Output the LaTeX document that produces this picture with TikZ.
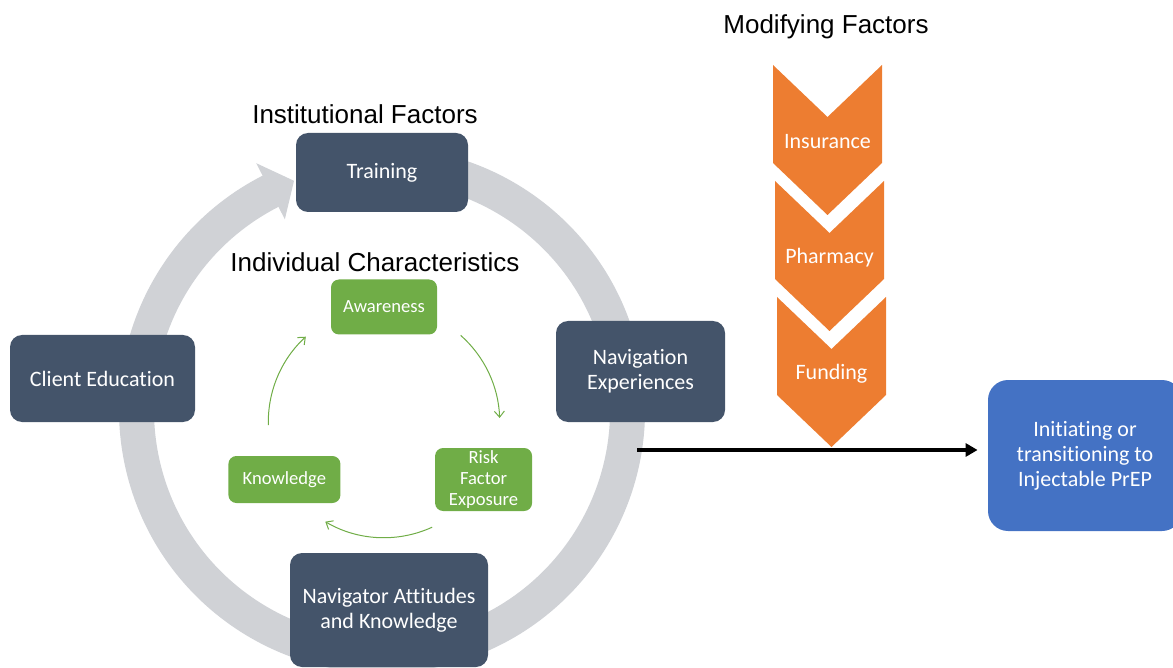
\documentclass[tikz,border=0pt]{standalone}
\usepackage{fontspec}
\setmainfont{Carlito}[Ligatures=NoCommon]
\newfontfamily\headfont{Liberation Sans}
\usetikzlibrary{arrows.meta}

\definecolor{slate}{HTML}{44546A}
\definecolor{ringgrey}{HTML}{D0D2D6}
\definecolor{leaf}{HTML}{70AD47}
\definecolor{amber}{HTML}{ED7D31}
\definecolor{prepblue}{HTML}{4472C4}

\tikzset{
  factor/.style={fill=slate, text=white, rounded corners=6pt, align=center, inner sep=0pt, font=\fontsize{11}{12.5}\selectfont},
  trait/.style={fill=leaf, text=white, rounded corners=4pt, align=center, inner sep=0pt, font=\fontsize{9.3}{10.5}\selectfont},
  heading/.style={font=\headfont\fontsize{13}{15}\selectfont},
  cyc/.style={leaf, line width=0.5pt, -{Straight Barb[length=3pt,width=5pt]}},
}

\begin{document}
\begin{tikzpicture}[x=0.5pt, y=-0.5pt]
  \useasboundingbox (0,0) rectangle (1173,668);

  % grey cycle
  \coordinate (c) at (382,410);
  \draw[ringgrey, line width=17.5pt] ([shift={(-100:245.5)}]c) arc[start angle=-100, end angle=244, radius=245.5];
  \fill[ringgrey] ([shift={(-117:214)}]c) -- ([shift={(-111:245.5)}]c) -- ([shift={(-117:277)}]c) -- cycle;

  \node[heading] (instfac) at (365,114) {Institutional Factors};
  \node[factor, minimum width=86pt, minimum height=39.5pt] (train) at (382,172.5) {Training};
  \node[factor, minimum width=92.5pt, minimum height=43.5pt] (client) at (102.5,378.5) {Client Education};
  \node[factor, minimum width=84.5pt, minimum height=50.5pt] (navexp) at (640.5,371.5) {Navigation\\Experiences};
  \node[factor, minimum width=99pt, minimum height=57pt] (navatt) at (389,610) {Navigator Attitudes\\and Knowledge};

  % inner cycle
  \coordinate (ic) at (384,422);
  \node[heading] (indiv) at (375,262) {Individual Characteristics};
  \node[trait, minimum width=53pt, minimum height=27.5pt] (aware) at ([shift={(-90:115)}]ic) {Awareness};
  \node[trait, minimum width=48.5pt, minimum height=31.5pt] (risk) at ([shift={(30:115)}]ic) {Risk\\Factor\\Exposure};
  \node[trait, minimum width=56pt, minimum height=23.5pt] (know) at ([shift={(150:115)}]ic) {Knowledge};

  \foreach \a/\b in {-48.5/-2, 65.4/120.5, 178.5/227.5}
    \draw[cyc] ([shift={(\a:115.7)}]ic) arc[start angle=\a, end angle=\b, radius=115.7];

  % modifying factors
  \node[heading] (modfac) at (826,27) {Modifying Factors};
  \foreach \x/\y/\txt/\nm in {773/65/Insurance/ins, 775/181/Pharmacy/pha, 777/297/Funding/fun}{
    \fill[amber] (\x,\y) -- ++(54.5,52) -- ++(54.5,-52) -- ++(0,98) -- ++(-54.5,52) -- ++(-54.5,-52) -- cycle;
    \node[font=\fontsize{11}{12.5}\selectfont, text=white] (\nm) at (\x+54.5,\y+77) {\txt};
  }

  \node[factor, fill=prepblue, rounded corners=10pt, minimum width=97pt, minimum height=75.5pt] (prep) at (1085,455.5) {Initiating or\\transitioning to\\Injectable PrEP};

  \coordinate (exit) at (637,450);
  \draw[line width=1.75pt, -{Triangle[length=6pt,width=6.5pt]}, shorten >=5pt] (exit) -- (exit -| prep.west);
\end{tikzpicture}
\end{document}
